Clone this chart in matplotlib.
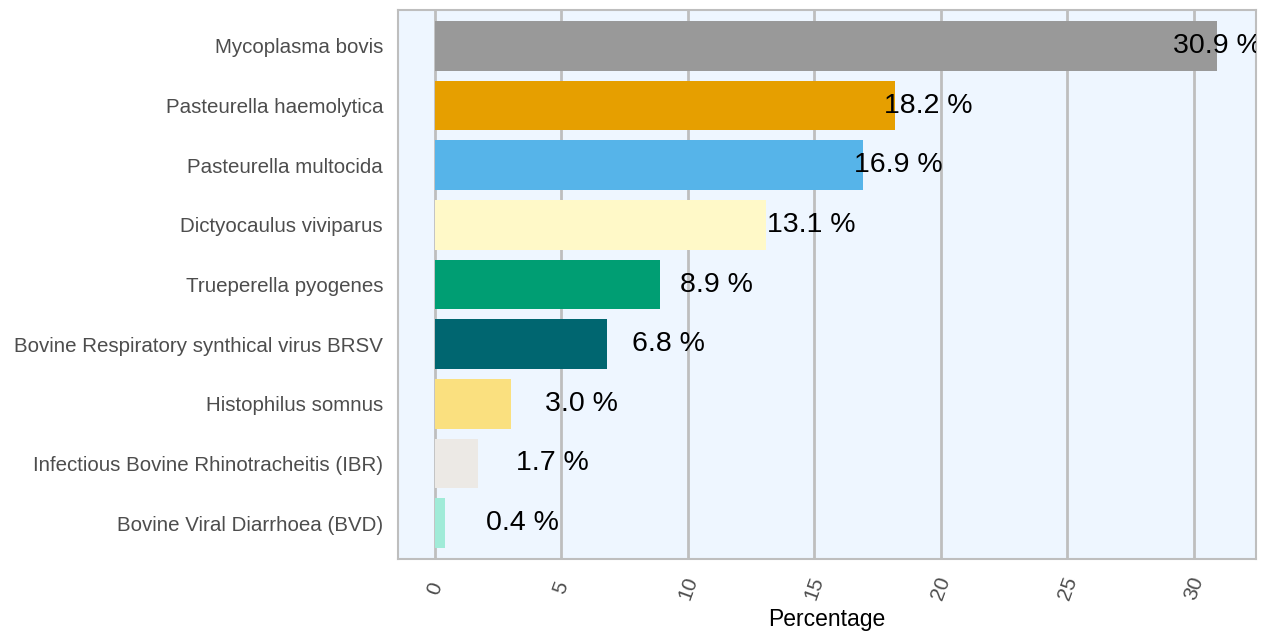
import matplotlib
matplotlib.use("Agg")
import matplotlib.pyplot as plt

categories = [
    "Mycoplasma bovis",
    "Pasteurella haemolytica",
    "Pasteurella multocida",
    "Dictyocaulus viviparus",
    "Trueperella pyogenes",
    "Bovine Respiratory synthical virus BRSV",
    "Histophilus somnus",
    "Infectious Bovine Rhinotracheitis (IBR)",
    "Bovine Viral Diarrhoea (BVD)",
]
values = [30.9, 18.2, 16.9, 13.1, 8.9, 6.8, 3.0, 1.7, 0.4]
colors = ["#999999", "#E69F00", "#56B4E9", "#FFF9C8", "#009E73",
          "#006670", "#FAE07F", "#ECE9E5", "#A0EBD8"]
xticks = [0, 5, 10, 15, 20, 25, 30]

plt.rcParams['font.family'] = ['Liberation Sans', 'DejaVu Sans']
fig = plt.figure(figsize=(12.68, 6.33), dpi=100)
ax = fig.add_axes([0.3139, 0.117, 0.9905 - 0.3139, 0.984 - 0.117])
ax.set_facecolor("#EEF6FF")

n = len(categories)
ypos = list(range(n))
ax.barh(ypos, values, height=0.83, color=colors, zorder=3)
for y, v in zip(ypos, values):
    ax.text(v * 0.9 + 3.1, y, f"{v:.1f} %", ha="center", va="center",
            fontsize=20.5, color="black", zorder=4, clip_on=True)

ax.set_ylim(n - 1 + 0.6, -0.6)
ax.set_xlim(-1.46, 32.45)
ax.set_yticks(ypos)
ax.set_yticklabels(categories, fontsize=14.8, color="#4D4D4D")
ax.set_xticks(xticks)
ax.set_xticklabels([str(t) for t in xticks], fontsize=15,
                   color="#4D4D4D", rotation=70, ha="center", va="center")
ax.tick_params(axis="y", length=0, pad=10.8)
ax.tick_params(axis="x", length=0, pad=21)
ax.grid(axis="x", color="#BEBEBE", linewidth=2, zorder=1)
ax.grid(axis="y", visible=False)
for s in ax.spines.values():
    s.set_color("#BEBEBE")
    s.set_linewidth(1.5)
ax.set_xlabel("Percentage", fontsize=16.5, color="black", va="center")
ax.xaxis.set_label_coords(0.5, -0.111)

fig.savefig("out.png", dpi=100)
